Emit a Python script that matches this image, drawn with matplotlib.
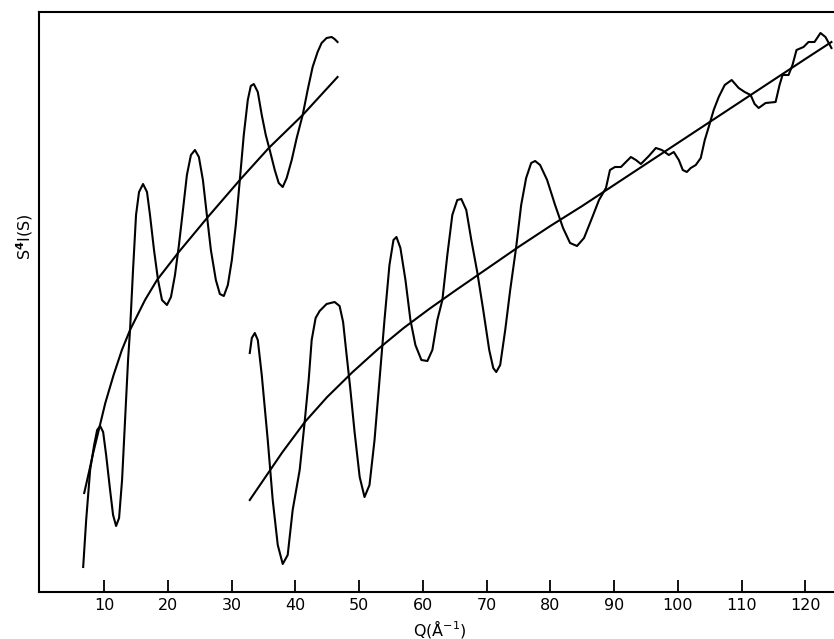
import matplotlib
matplotlib.use("Agg")
import matplotlib.pyplot as plt

# first scan (low Q): oscillating S^4 I(S) and its smooth background
q_low = [6.73, 7.20, 7.82, 8.45, 8.92, 9.39, 9.86, 10.33, 10.95, 11.42, 11.89,
         12.36, 12.83, 13.30, 13.77, 14.08, 14.55, 15.02, 15.49, 16.12, 16.74,
         17.21, 17.84, 18.47, 19.09, 19.87, 20.50, 21.13, 21.75, 22.38, 23.00,
         23.63, 24.26, 24.88, 25.51, 26.13, 26.76, 27.54, 28.17, 28.79, 29.42,
         30.05, 30.67, 31.30, 31.92, 32.55, 33.02, 33.49, 34.12, 34.74, 35.37,
         35.99, 36.78, 37.40, 38.03, 38.65, 39.44, 40.22, 41.16, 41.94, 42.72,
         43.50, 44.13, 44.91, 45.70, 46.16, 46.63]
s_low = [2.5, 7.2, 12.2, 14.7, 16.2, 16.6, 16.0, 13.7, 10.2, 7.7, 6.6,
         7.4, 11.2, 17.2, 23.2, 26.2, 32.2, 37.7, 40.0, 40.8, 40.0,
         37.7, 34.2, 31.2, 29.2, 28.7, 29.5, 31.7, 34.7, 38.2, 41.7,
         43.7, 44.2, 43.5, 41.2, 37.7, 34.2, 31.2, 29.8, 29.6, 30.7,
         33.2, 36.7, 41.2, 45.7, 49.2, 50.6, 50.8, 50.0, 47.7, 45.7,
         44.2, 42.2, 40.9, 40.5, 41.4, 43.2, 45.4, 47.7, 50.2, 52.5,
         54.0, 54.9, 55.4, 55.5, 55.3, 55.0]

q_low_bg = [6.89, 7.5, 8.3, 9.1, 10.2, 11.5, 12.8, 14.08, 16.43, 18.31, 21.60,
            26.29, 31.30, 35.84, 41.16, 46.63]
s_low_bg = [9.9, 11.6, 13.9, 16.0, 18.9, 21.7, 24.2, 26.2, 29.2, 31.2, 33.9,
            37.5, 41.2, 44.4, 47.7, 51.5]

# second scan (high Q)
q_high = [32.86, 33.18, 33.65, 34.12, 34.74, 35.68, 36.46, 37.25, 38.03, 38.81,
          39.59, 40.69, 41.47, 42.10, 42.57, 43.19, 43.82, 44.91, 46.17, 46.95,
          47.50, 48.00, 48.60, 49.30, 50.10, 50.86, 51.64, 52.43, 53.21, 53.99,
          54.77, 55.40, 55.87, 56.49, 57.28, 58.06, 58.84, 59.78, 60.72, 61.50,
          62.28, 63.07, 63.85, 64.63, 65.41, 66.04, 66.82, 67.61, 68.54, 69.48,
          70.42, 71.05, 71.52, 72.14, 72.93, 73.71, 74.65, 75.43, 76.21, 77.00,
          77.62, 78.40, 79.50, 80.75, 82.00, 83.10, 84.19, 85.29, 86.54, 87.64,
          88.73, 89.36, 90.14, 91.08, 91.86, 92.64, 93.43, 94.21, 95.46, 96.56,
          97.50, 98.59, 99.37, 100.16, 100.78, 101.41, 102.03, 102.82, 103.60,
          104.23, 104.85, 105.63, 106.42, 107.36, 108.45, 109.55, 110.49, 111.42,
          112.05, 112.68, 113.77, 115.34, 115.96, 116.43, 117.37, 117.99, 118.62,
          119.72, 120.50, 121.44, 122.38, 123.16, 124.10]
s_high = [23.9, 25.4, 25.9, 25.2, 21.7, 15.2, 9.2, 4.7, 2.8, 3.7,
          8.2, 12.2, 17.0, 21.2, 25.2, 27.4, 28.1, 28.8, 29.0, 28.6,
          27.0, 24.0, 20.5, 16.0, 11.5, 9.5, 10.7, 15.2, 21.2, 27.2,
          32.7, 35.2, 35.5, 34.4, 31.2, 27.2, 24.7, 23.2, 23.1, 24.2,
          27.2, 29.2, 33.7, 37.7, 39.2, 39.3, 38.2, 35.2, 32.0, 28.2,
          24.2, 22.4, 22.0, 22.7, 26.2, 30.2, 34.5, 38.7, 41.4, 42.9,
          43.1, 42.7, 41.2, 38.7, 36.4, 34.9, 34.6, 35.4, 37.4, 39.2,
          40.4, 42.2, 42.5, 42.5, 43.0, 43.5, 43.2, 42.8, 43.6, 44.4,
          44.2, 43.7, 44.0, 43.2, 42.2, 42.0, 42.4, 42.7, 43.4,
          45.2, 46.5, 48.2, 49.5, 50.7, 51.2, 50.4, 50.0, 49.7,
          48.8, 48.4, 48.9, 49.0, 50.7, 51.7, 51.7, 52.7, 54.2,
          54.5, 55.0, 55.0, 55.9, 55.5, 54.4]

q_high_bg = [32.86, 35.0, 38.0, 41.5, 45.0, 49.0, 53.0, 57.0, 61.0, 65.0, 70.0,
             75.0, 80.0, 85.0, 90.0, 95.0, 100.0, 105.0, 110.0, 115.0, 120.0,
             124.1]
s_high_bg = [9.2, 11.2, 14.0, 17.0, 19.5, 22.0, 24.3, 26.4, 28.3, 30.1, 32.3,
             34.5, 36.6, 38.6, 40.7, 42.8, 44.9, 47.0, 49.1, 51.2, 53.3,
             55.0]

xticks = [10, 20, 30, 40, 50, 60, 70, 80, 90, 100, 110, 120]

fig = plt.figure(figsize=(8.34, 6.39), dpi=100)
ax = fig.add_axes([39 / 834, 1 - 592 / 639, 795 / 834, 580 / 639])

lw = 1.5
ax.plot(q_low, s_low, color="black", lw=lw)
ax.plot(q_low_bg, s_low_bg, color="black", lw=lw)
ax.plot(q_high, s_high, color="black", lw=lw)
ax.plot(q_high_bg, s_high_bg, color="black", lw=lw)

ax.set_xlim(-0.2, 124.5)
ax.set_ylim(0, 58)
ax.set_xticks(xticks)
ax.set_xticklabels([str(t) for t in xticks], fontsize=11.5)
ax.set_yticks([])
ax.tick_params(axis="x", direction="in", length=9, width=1.3, pad=4)
ax.spines["right"].set_visible(False)
for side in ("left", "bottom", "top"):
    ax.spines[side].set_linewidth(1.5)

fig.text(25 / 834, 1 - 237 / 639, r"S$^\mathbf{4}$I(S)", rotation=90,
         ha="center", va="center", fontsize=11.5)
fig.text(440 / 834, 1 - 629 / 639, r"Q(Å$^{-1}$)", ha="center", va="center",
         fontsize=11.5)

fig.savefig("out.png", dpi=100)
